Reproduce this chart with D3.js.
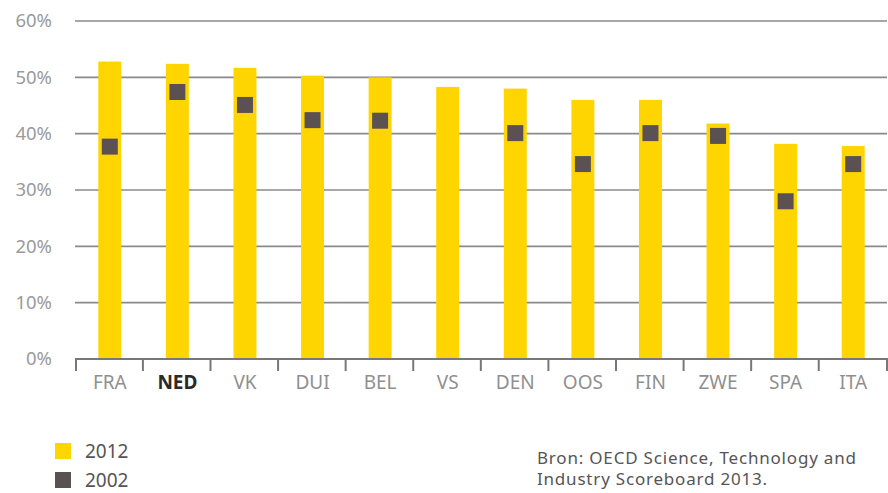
<!DOCTYPE html>
<html>
<head>
<meta charset="utf-8">
<script src="https://cdn.jsdelivr.net/npm/d3@7"></script>
<style>
  body { margin: 0; background: #fff; }
  svg text { font-family: "Noto Sans", "Open Sans", sans-serif; }
</style>
</head>
<body>
<svg id="chart" width="888" height="493"></svg>
<script>
var countries = ["FRA", "NED", "VK", "DUI", "BEL", "VS", "DEN", "OOS", "FIN", "ZWE", "SPA", "ITA"];
var values2012 = [52.8, 52.4, 51.7, 50.3, 50.0, 48.3, 48.0, 46.0, 46.0, 41.8, 38.2, 37.8];
var values2002 = [37.7, 47.4, 45.1, 42.4, 42.3, null, 40.1, 34.6, 40.1, 39.6, 28.0, 34.6];
var yTicks = [0, 10, 20, 30, 40, 50, 60];
var highlight = "NED";

var svg = d3.select("#chart");

var x = d3.scaleBand()
    .domain(countries)
    .range([76, 887])
    .paddingInner(0.66)
    .paddingOuter(0.33);

var y = d3.scaleLinear()
    .domain([0, 60])
    .range([359, 21]);

// grid lines
svg.append("g")
  .selectAll("line")
  .data(yTicks.filter(function(d) { return d > 0; }))
  .enter().append("line")
    .attr("x1", 75)
    .attr("x2", 887)
    .attr("y1", function(d) { return y(d); })
    .attr("y2", function(d) { return y(d); })
    .style("stroke", "#8a8a8a")
    .style("stroke-width", 1.6);

// y labels
svg.append("g")
  .selectAll("text")
  .data(yTicks)
  .enter().append("text")
    .attr("x", 52)
    .attr("y", function(d) { return y(d); })
    .attr("dy", "0.35em")
    .attr("text-anchor", "end")
    .style("font-size", "18.5px")
    .style("fill", "#9a9a9a")
    .text(function(d) { return d + "%"; });

// 2012 bars
svg.append("g")
  .selectAll("rect")
  .data(countries)
  .enter().append("rect")
    .attr("x", function(d) { return x(d); })
    .attr("width", x.bandwidth())
    .attr("y", function(d, i) { return y(values2012[i]); })
    .attr("height", function(d, i) { return y(0) - y(values2012[i]); })
    .style("fill", "#ffd500");

// x axis
var xAxis = d3.axisBottom(x).tickSize(0).tickPadding(17);
var gx = svg.append("g")
    .attr("transform", "translate(0," + y(0) + ")")
    .call(xAxis);
gx.select(".domain")
    .attr("d", "M76,12V0H887V12")
    .style("stroke", "#777")
    .style("stroke-width", 2)
    .style("fill", "none");
gx.selectAll(".tick text")
    .style("font-size", "19px")
    .style("font-family", "'Noto Sans', sans-serif")
    .style("fill", function(d) { return d == highlight ? "#2a2a2a" : "#8f8f8f"; })
    .style("font-weight", function(d) { return d == highlight ? "bold" : "normal"; });

// separator ticks between categories
gx.append("g")
  .selectAll("line")
  .data(countries.slice(1))
  .enter().append("line")
    .attr("x1", function(d) { return x(d) - x.bandwidth(); })
    .attr("x2", function(d) { return x(d) - x.bandwidth(); })
    .attr("y1", 0)
    .attr("y2", 12)
    .style("stroke", "#777")
    .style("stroke-width", 2);

// 2002 markers
var m = 16;
svg.append("g")
  .selectAll("rect")
  .data(countries.filter(function(d, i) { return values2002[i] != null; }))
  .enter().append("rect")
    .attr("x", function(d) { return x(d) + x.bandwidth() / 2 - m / 2; })
    .attr("y", function(d) { return y(values2002[countries.indexOf(d)]) - m / 2; })
    .attr("width", m)
    .attr("height", m)
    .style("fill", "#5b5052");

// legend
var legend = [
  { label: "2012", color: "#ffd500", y: 451 },
  { label: "2002", color: "#5b5052", y: 480 }
];
var lg = svg.append("g");
lg.selectAll("rect")
  .data(legend)
  .enter().append("rect")
    .attr("x", 55)
    .attr("y", function(d) { return d.y - 8; })
    .attr("width", 16)
    .attr("height", 16)
    .style("fill", function(d) { return d.color; });
lg.selectAll("text")
  .data(legend)
  .enter().append("text")
    .attr("x", 85)
    .attr("y", function(d) { return d.y; })
    .attr("dy", "0.35em")
    .style("font-size", "19px")
    .style("fill", "#555")
    .text(function(d) { return d.label; });

// source, two lines
var sourceLines = ["Bron: OECD Science, Technology and", "Industry Scoreboard 2013."];
svg.append("g")
  .selectAll("text")
  .data(sourceLines)
  .enter().append("text")
    .attr("x", 537)
    .attr("y", function(d, i) { return 464 + i * 21; })
    .style("font-size", "17px")
    .style("letter-spacing", "0.8px")
    .style("fill", "#555")
    .text(function(d) { return d; });
</script>
</body>
</html>
